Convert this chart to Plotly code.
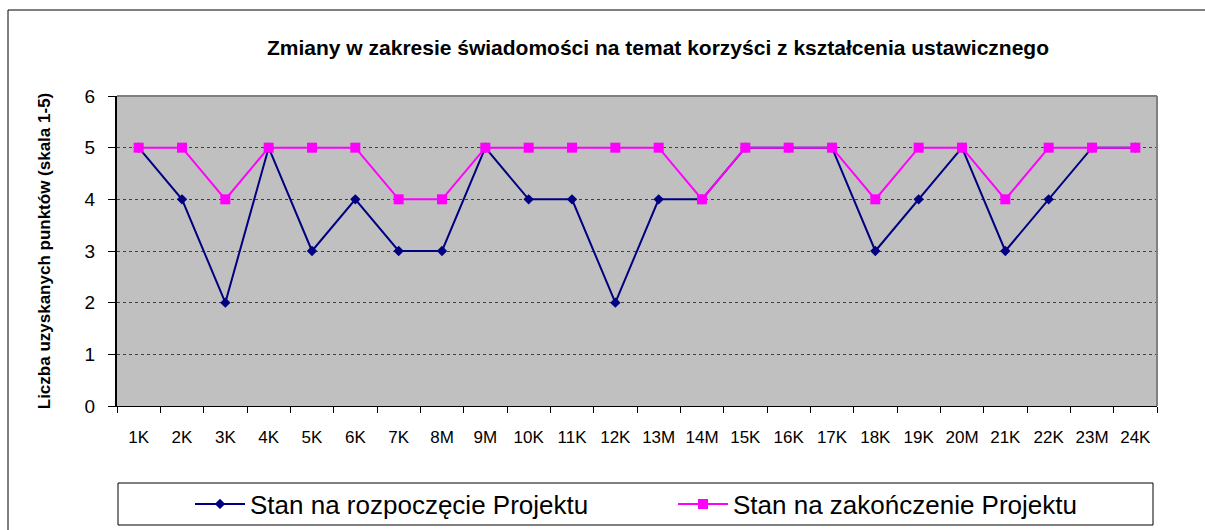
import plotly.graph_objects as go

categories = ["1K","2K","3K","4K","5K","6K","7K","8M","9M","10K","11K","12K",
              "13M","14M","15K","16K","17K","18K","19K","20M","21K","22K","23M","24K"]
start_vals = [5,4,2,5,3,4,3,3,5,4,4,2,4,4,5,5,5,3,4,5,3,4,5,5]
end_vals   = [5,5,4,5,5,5,4,4,5,5,5,5,5,4,5,5,5,4,5,5,4,5,5,5]
series_names = ["Stan na rozpoczęcie Projektu", "Stan na zakończenie Projektu"]
title_text = "Zmiany w zakresie świadomości na temat korzyści z kształcenia ustawicznego"
y_title = "Liczba uzyskanych punktów (skala 1-5)"

FONT = "Arial, Liberation Sans, sans-serif"
W, H = 1205, 530
L, R, T, B = 117, 48, 96, 124
pw, ph = W - L - R, H - T - B

def px_x(x):
    return (x - L) / pw

def px_y(y):
    return (H - B - y) / ph

fig = go.Figure()
fig.add_trace(go.Scatter(
    x=categories, y=start_vals, name=series_names[0], mode="lines+markers",
    line=dict(color="#000080", width=2),
    marker=dict(symbol="diamond", size=8, color="#000080"),
))
fig.add_trace(go.Scatter(
    x=categories, y=end_vals, name=series_names[1], mode="lines+markers",
    line=dict(color="#FF00FF", width=2),
    marker=dict(symbol="square", size=10, color="#FF00FF"),
))

shapes = [
    dict(type="rect", xref="paper", yref="paper",
         x0=px_x(8), x1=px_x(1215), y0=px_y(545), y1=px_y(10),
         line=dict(color="#000000", width=1), fillcolor="rgba(0,0,0,0)", layer="below"),
    dict(type="line", xref="paper", yref="paper", x0=0, x1=1, y0=1, y1=1,
         line=dict(color="#808080", width=2)),
    dict(type="line", xref="paper", yref="paper", x0=1, x1=1, y0=0, y1=1,
         line=dict(color="#808080", width=2)),
    dict(type="rect", xref="paper", yref="paper",
         x0=px_x(118), x1=px_x(1153), y0=px_y(525), y1=px_y(483),
         line=dict(color="#000000", width=1), fillcolor="white", layer="below"),
]

fig.update_layout(
    width=W, height=H,
    margin=dict(l=L, r=R, t=T, b=B, autoexpand=False),
    paper_bgcolor="white",
    plot_bgcolor="#C0C0C0",
    font=dict(family=FONT, color="#000000"),
    title=dict(text="<b>" + title_text + "</b>", x=658 / W, xref="container", xanchor="center",
               y=1 - 48 / H, yref="container", yanchor="middle", font=dict(size=21, family=FONT)),
    showlegend=True,
    legend=dict(orientation="h", x=px_x(190), xanchor="left", y=px_y(504), yanchor="middle",
                font=dict(size=26, family=FONT), bgcolor="rgba(0,0,0,0)",
                entrywidth=418, entrywidthmode="pixels", itemwidth=50),
    shapes=shapes,
)
fig.update_xaxes(
    type="category", range=[-0.5, 23.5], tickson="boundaries",
    ticks="outside", ticklen=6, tickcolor="#000000", ticklabelstandoff=16,
    showline=True, linecolor="#000000", linewidth=1, automargin=False,
    showgrid=False, tickfont=dict(size=17, family=FONT), fixedrange=True,
)
fig.update_yaxes(
    range=[0, 6], dtick=1, ticks="outside", ticklen=7, tickcolor="#000000", ticklabelstandoff=9,
    showline=True, linecolor="#000000", linewidth=2, automargin=False,
    showgrid=True, gridcolor="#404040", griddash="dot", gridwidth=1,
    zeroline=False, tickfont=dict(size=19, family=FONT),
    title=dict(text="<b>" + y_title + "</b>", font=dict(size=17, family=FONT), standoff=30),
    fixedrange=True,
)

fig.write_html("out.html", config={"displayModeBar": False},
               post_script="document.body.style.margin='0';")
